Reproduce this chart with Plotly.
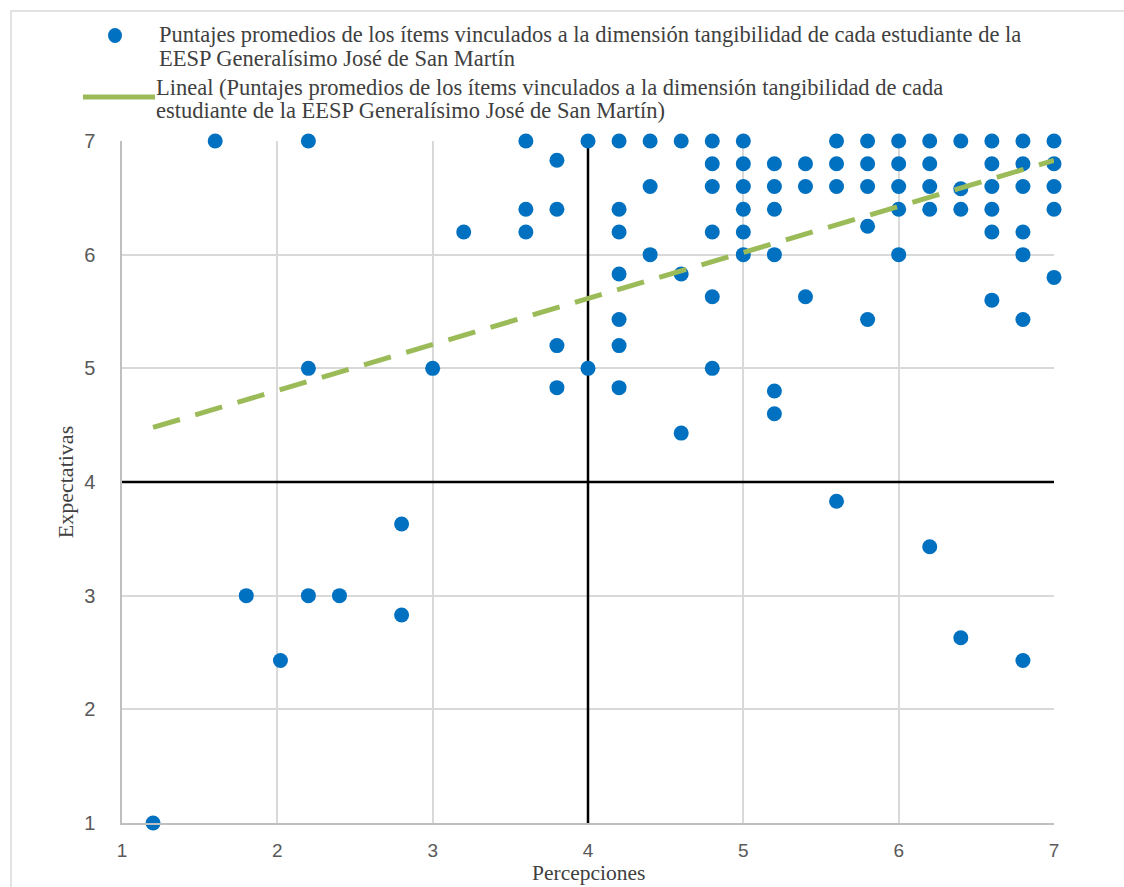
import plotly.graph_objects as go

# Data (percepciones, expectativas)
percepciones = [
    1.2, 1.6, 1.8, 2.02,
    2.2, 2.2, 2.2, 2.4,
    2.8, 2.8, 3.0, 3.2,
    3.6, 3.6, 3.6,
    3.8, 3.8, 3.8, 3.8,
    4.0, 4.0,
    4.2, 4.2, 4.2, 4.2, 4.2, 4.2, 4.2,
    4.4, 4.4, 4.4,
    4.6, 4.6, 4.6,
    4.8, 4.8, 4.8, 4.8, 4.8, 4.8,
    5.0, 5.0, 5.0, 5.0, 5.0, 5.0,
    5.2, 5.2, 5.2, 5.2, 5.2, 5.2,
    5.4, 5.4, 5.4,
    5.6, 5.6, 5.6, 5.6,
    5.8, 5.8, 5.8, 5.8, 5.8,
    6.0, 6.0, 6.0, 6.0, 6.0,
    6.2, 6.2, 6.2, 6.2, 6.2,
    6.4, 6.4, 6.4, 6.4,
    6.6, 6.6, 6.6, 6.6, 6.6, 6.6,
    6.8, 6.8, 6.8, 6.8, 6.8, 6.8, 6.8,
    7.0, 7.0, 7.0, 7.0, 7.0,
]
expectativas = [
    1.0, 7.0, 3.0, 2.43,
    7.0, 5.0, 3.0, 3.0,
    3.63, 2.83, 5.0, 6.2,
    7.0, 6.4, 6.2,
    6.83, 6.4, 5.2, 4.83,
    7.0, 5.0,
    7.0, 6.4, 6.2, 5.83, 5.43, 5.2, 4.83,
    7.0, 6.6, 6.0,
    7.0, 5.83, 4.43,
    7.0, 6.8, 6.6, 6.2, 5.63, 5.0,
    7.0, 6.8, 6.6, 6.4, 6.2, 6.0,
    6.8, 6.6, 6.4, 6.0, 4.8, 4.6,
    6.8, 6.6, 5.63,
    7.0, 6.8, 6.6, 3.83,
    7.0, 6.8, 6.6, 6.25, 5.43,
    7.0, 6.8, 6.6, 6.4, 6.0,
    7.0, 6.8, 6.6, 6.4, 3.43,
    7.0, 6.58, 6.4, 2.63,
    7.0, 6.8, 6.6, 6.4, 6.2, 5.6,
    7.0, 6.8, 6.6, 6.2, 6.0, 5.43, 2.43,
    7.0, 6.8, 6.6, 6.4, 5.8,
]
# Linear trendline endpoints
trend_x = [1.2, 7.0]
trend_y = [4.48, 6.83]
# Quadrant reference lines
mid_value = 4
axis_min, axis_max = 1, 7
tick_vals = [1, 2, 3, 4, 5, 6, 7]
x_title = "Percepciones"
y_title = "Expectativas"

legend_points_lines = [
    "Puntajes promedios de los ítems vinculados a la dimensión tangibilidad de cada estudiante de la",
    "EESP Generalísimo José de San Martín",
]
legend_trend_lines = [
    "Lineal (Puntajes promedios de los ítems vinculados a la dimensión tangibilidad de cada",
    "estudiante de la EESP Generalísimo José de San Martín)",
]

POINT_COLOR = "#0070C0"
TREND_COLOR = "#9BBB59"
serif = "Liberation Serif, Times New Roman, serif"
sans = "Liberation Sans, Arial, sans-serif"

# plot-area geometry (pixels) used to place the legend in paper coordinates
W, H = 1124, 887
ML, MR, MT, MB = 122, 70, 141, 64
PW, PH = W - ML - MR, H - MT - MB


def px(x):
    return (x - ML) / PW


def py(y):
    return (H - MB - y) / PH


fig = go.Figure()

# quadrant lines
fig.add_trace(go.Scatter(x=[axis_min, axis_max], y=[mid_value, mid_value], mode="lines",
                         line=dict(color="black", width=2.5), showlegend=False, hoverinfo="skip"))
fig.add_trace(go.Scatter(x=[mid_value, mid_value], y=[axis_min, axis_max], mode="lines",
                         line=dict(color="black", width=2.5), showlegend=False, hoverinfo="skip"))

fig.add_trace(go.Scatter(x=percepciones, y=expectativas, mode="markers",
                         name=" ".join(legend_points_lines),
                         marker=dict(color=POINT_COLOR, size=15, line=dict(width=0)),
                         cliponaxis=False, showlegend=False))
fig.add_trace(go.Scatter(x=trend_x, y=trend_y, mode="lines",
                         name=" ".join(legend_trend_lines),
                         line=dict(color=TREND_COLOR, width=5, dash="28px,16px"), showlegend=False))

legend_font = dict(family=serif, size=22.5, color="#404040")
annotations = []
for txt, x, y in [
    (legend_points_lines[0], 157, 35), (legend_points_lines[1], 157, 58),
    (legend_trend_lines[0], 154, 87.5), (legend_trend_lines[1], 154, 110.5),
]:
    annotations.append(dict(text=txt, xref="paper", yref="paper", x=px(x), y=py(y),
                            xanchor="left", yanchor="middle", showarrow=False,
                            font=legend_font, align="left"))
# x axis title (placed as annotation so it sits at the bottom edge like the reference)
annotations.append(dict(text=x_title, xref="paper", yref="paper", x=0.5, y=py(873),
                        xanchor="center", yanchor="middle", showarrow=False,
                        font=dict(family=serif, size=21.5, color="#404040")))

shapes = [
    # outer chart border
    dict(type="rect", xref="paper", yref="paper", x0=px(11), x1=px(1135), y0=py(900), y1=py(11),
         line=dict(color="#d9d9d9", width=1.5), fillcolor="rgba(0,0,0,0)", layer="below"),
    # legend symbols
    dict(type="circle", xref="paper", yref="paper", x0=px(108), x1=px(122), y0=py(43), y1=py(28),
         line=dict(width=0), fillcolor=POINT_COLOR),
    dict(type="line", xref="paper", yref="paper", x0=px(83), x1=px(155), y0=py(97), y1=py(97),
         line=dict(color=TREND_COLOR, width=5)),
]

fig.update_layout(
    width=W, height=H,
    margin=dict(l=ML, r=MR, t=MT, b=MB, autoexpand=False),
    paper_bgcolor="white", plot_bgcolor="white",
    showlegend=False,
    xaxis=dict(range=[axis_min, axis_max], tickvals=tick_vals, showgrid=True, gridcolor="#d9d9d9",
               gridwidth=1.5, zeroline=False, showline=True, linecolor="#bfbfbf", linewidth=1.5,
               ticks="", ticklabelstandoff=9,
               tickfont=dict(family=sans, size=19, color="#595959")),
    yaxis=dict(range=[axis_min, axis_max], tickvals=tick_vals, showgrid=True, gridcolor="#d9d9d9",
               gridwidth=1.5, zeroline=False, showline=True, linecolor="#bfbfbf", linewidth=1.5,
               ticks="", ticklabelstandoff=21,
               tickfont=dict(family=sans, size=20, color="#595959"),
               title=dict(text=y_title, font=dict(family=serif, size=22, color="#404040"),
                          standoff=4)),
    annotations=annotations,
    shapes=shapes,
)

fig.write_html("out.html")
